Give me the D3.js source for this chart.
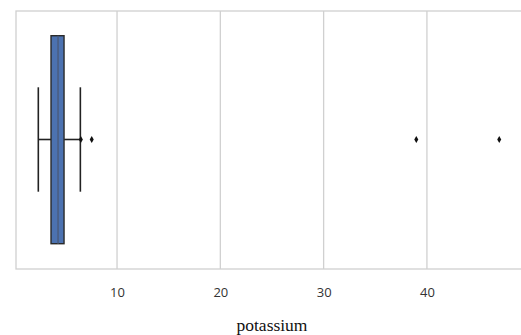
<!DOCTYPE html>
<html>
<head>
<meta charset="utf-8">
<script src="https://cdn.jsdelivr.net/npm/d3@7"></script>
<style>
  body { margin: 0; background: #fff; }
  svg { display: block; }
</style>
</head>
<body>
<div id="chart"></div>
<script>
// box summary for potassium
const stats = { whiskerLow: 2.38, q1: 3.61, median: 4.29, q3: 4.87, whiskerHigh: 6.45 };
const outliers = [6.5, 7.55, 38.97, 47.0];
const tickValues = [10, 20, 30, 40];
const xLabel = 'potassium';

const width = 521, height = 335;
const margin = { top: 11, right: -2, bottom: 66, left: 16 };
const innerW = width - margin.left - margin.right;
const innerH = height - margin.top - margin.bottom;

const svg = d3.select('#chart').append('svg')
  .attr('width', width)
  .attr('height', height);

const g = svg.append('g')
  .attr('transform', `translate(${margin.left},${margin.top})`);

const x = d3.scaleLinear()
  .domain([0.22, 49.3])
  .range([0, innerW]);

// gridlines
g.selectAll('line.grid')
  .data(tickValues)
  .join('line')
  .attr('class', 'grid')
  .attr('x1', d => x(d)).attr('x2', d => x(d))
  .attr('y1', 0).attr('y2', innerH)
  .attr('stroke', '#d0d0d0')
  .attr('stroke-width', 1.3);

// frame
g.append('rect')
  .attr('x', 0).attr('y', 0)
  .attr('width', innerW).attr('height', innerH)
  .attr('fill', 'none')
  .attr('stroke', '#d0d0d0')
  .attr('stroke-width', 1.3);

// axis labels
const axis = g.append('g')
  .attr('transform', `translate(0,${innerH})`)
  .call(d3.axisBottom(x).tickValues(tickValues).tickSize(0).tickPadding(19));
axis.select('.domain').remove();
axis.selectAll('text')
  .style('font-family', '"Open Sans", sans-serif')
  .style('font-size', '13px')
  .style('fill', '#333');

const cy = 128.5;
const boxTop = 24.7, boxBottom = 232.7;
const capTop = 76.3, capBottom = 180.7;

// whiskers
g.append('line')
  .attr('x1', x(stats.whiskerLow)).attr('x2', x(stats.q1))
  .attr('y1', cy).attr('y2', cy)
  .attr('stroke', '#222').attr('stroke-width', 1.6);
g.append('line')
  .attr('x1', x(stats.q3)).attr('x2', x(stats.whiskerHigh))
  .attr('y1', cy).attr('y2', cy)
  .attr('stroke', '#222').attr('stroke-width', 1.6);
g.selectAll('line.cap')
  .data([stats.whiskerLow, stats.whiskerHigh])
  .join('line')
  .attr('class', 'cap')
  .attr('x1', d => x(d)).attr('x2', d => x(d))
  .attr('y1', capTop).attr('y2', capBottom)
  .attr('stroke', '#222').attr('stroke-width', 1.6);

// box
g.append('rect')
  .attr('x', x(stats.q1))
  .attr('y', boxTop)
  .attr('width', x(stats.q3) - x(stats.q1))
  .attr('height', boxBottom - boxTop)
  .attr('fill', '#4c72b0')
  .attr('stroke', '#2a2a2a')
  .attr('stroke-width', 1.4);

// median
g.append('line')
  .attr('x1', x(stats.median)).attr('x2', x(stats.median))
  .attr('y1', boxTop).attr('y2', boxBottom)
  .attr('stroke', '#4a5a78').attr('stroke-width', 1.3);

// outliers
g.selectAll('path.out')
  .data(outliers)
  .join('path')
  .attr('class', 'out')
  .attr('transform', d => `translate(${x(d)},${cy})`)
  .attr('d', d3.symbol(d3.symbolDiamond, 14)())
  .attr('fill', '#111');

// x title
svg.append('text')
  .attr('x', 272)
  .attr('y', 331)
  .attr('text-anchor', 'middle')
  .style('font-family', '"Liberation Serif", "DejaVu Serif", serif')
  .style('font-size', '17.5px')
  .style('fill', '#111')
  .text(xLabel);
</script>
</body>
</html>
